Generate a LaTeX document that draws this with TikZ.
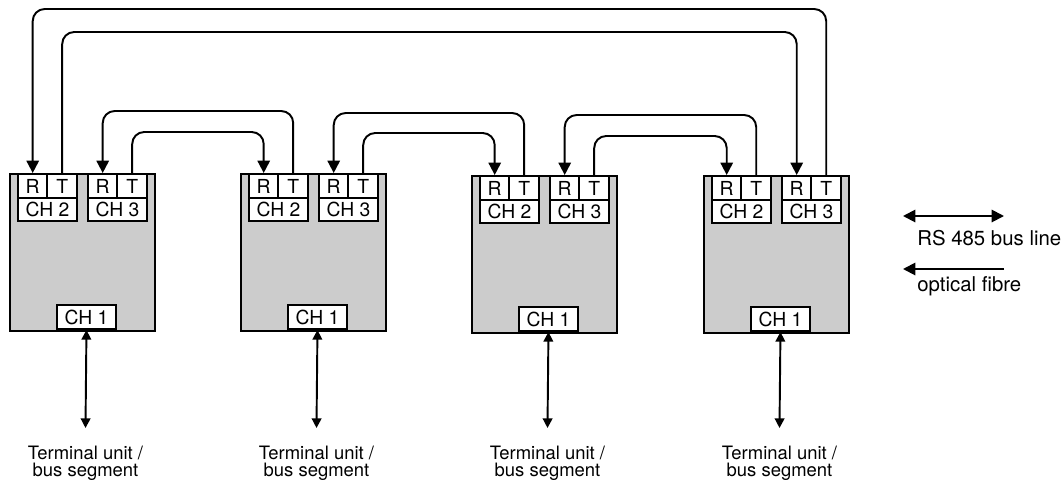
\documentclass[tikz,border=0pt]{standalone}
\usepackage{fontspec}
\setmainfont{TeX Gyre Heros}
\usetikzlibrary{arrows.meta}
\definecolor{modgray}{gray}{0.8}
\newcommand{\chfont}{\fontsize{11}{12}\selectfont}
\newcommand{\termfont}{\fontsize{10.5}{9.8}\selectfont}
\newcommand{\legfont}{\fontsize{11.6}{13}\selectfont}
\tikzset{
  modbox/.style={draw,fill=modgray,line width=1.1pt,minimum width=2.9cm,minimum height=3.14cm,anchor=north west,inner sep=0pt},
  cell/.style={draw,fill=white,line width=1.1pt,minimum width=0.59cm,minimum height=0.48cm,inner sep=0pt,anchor=north west,font=\chfont},
  chrow/.style={cell,minimum width=1.18cm,minimum height=0.46cm},
  fibre/.style={-{Triangle[length=7pt,width=7pt]},line width=1.1pt,rounded corners=0.24cm},
  bus/.style={{Triangle[length=5.5pt,width=5.5pt]}-{Triangle[length=5.5pt,width=5.5pt]},line width=1.1pt},
  legbus/.style={bus,{Triangle[length=7pt,width=7pt]}-{Triangle[length=7pt,width=7pt]}},
  termtxt/.style={align=center,anchor=north,inner xsep=0pt,inner ysep=10pt,font=\termfont},
  legtxt/.style={anchor=base west,inner sep=0pt,font=\legfont}
}

\begin{document}
\begin{tikzpicture}[x=0.02cm, y=-0.02cm]
  \useasboundingbox (0,0) rectangle (1063,481);
  % Modules with channels
  \foreach \i/\x/\y in {1/9/173,2/240/173,3/471/175,4/703/175} {
    \node[modbox] (m\i) at (\x,\y) {};
    \node[cell] (m\i_r2) at (\x+8,\y) {R};
    \node[cell] (m\i_t2) at (\x+37.5,\y) {T};
    \node[chrow] (m\i_c2) at (\x+8,\y+24) {CH 2};
    \node[cell] (m\i_r3) at (\x+78,\y) {R};
    \node[cell] (m\i_t3) at (\x+107.5,\y) {T};
    \node[chrow] (m\i_c3) at (\x+78,\y+24) {CH 3};
    \node[chrow,minimum height=0.48cm,anchor=south west] (m\i_c1) at (\x+47,\y+157) {CH 1};
    % Terminal unit below
    \node[termtxt] (term\i) at (\x+76.5,428) {Terminal unit /\\bus segment};
    \draw[bus] (m\i_c1.south) -- (term\i.north);
  }

  % Fibre links between neighbours
  \foreach \a/\b/\hi/\lo in {1/2/111/132,2/3/113/133,3/4/115/136} {
    \draw[fibre] (m\b_t2.north) -- (m\b_t2.north |- 0,\hi) -| (m\a_r3.north);
    \draw[fibre] (m\a_t3.north) -- (m\a_t3.north |- 0,\lo) -| (m\b_r2.north);
  }

  % Ring closing links
  \draw[fibre] (m4_t3.north) -- (m4_t3.north |- 0,9) -| (m1_r2.north);
  \draw[fibre] (m1_t2.north) -- (m1_t2.north |- 0,32) -| (m4_r3.north);

  % Legend
  \coordinate (bus_a) at (903,216);
  \coordinate (bus_b) at (1004,216);
  \draw[legbus] (bus_a) -- (bus_b);
  \node[legtxt] (bus_lbl) at (917,245) {RS 485 bus line};
  \coordinate (fib_a) at (1004,269);
  \coordinate (fib_b) at (903,269);
  \draw[fibre,-{Triangle[length=7pt,width=7pt]}] (fib_a) -- (fib_b);
  \node[legtxt] (fib_lbl) at (917,291) {optical fibre};
\end{tikzpicture}
\end{document}
